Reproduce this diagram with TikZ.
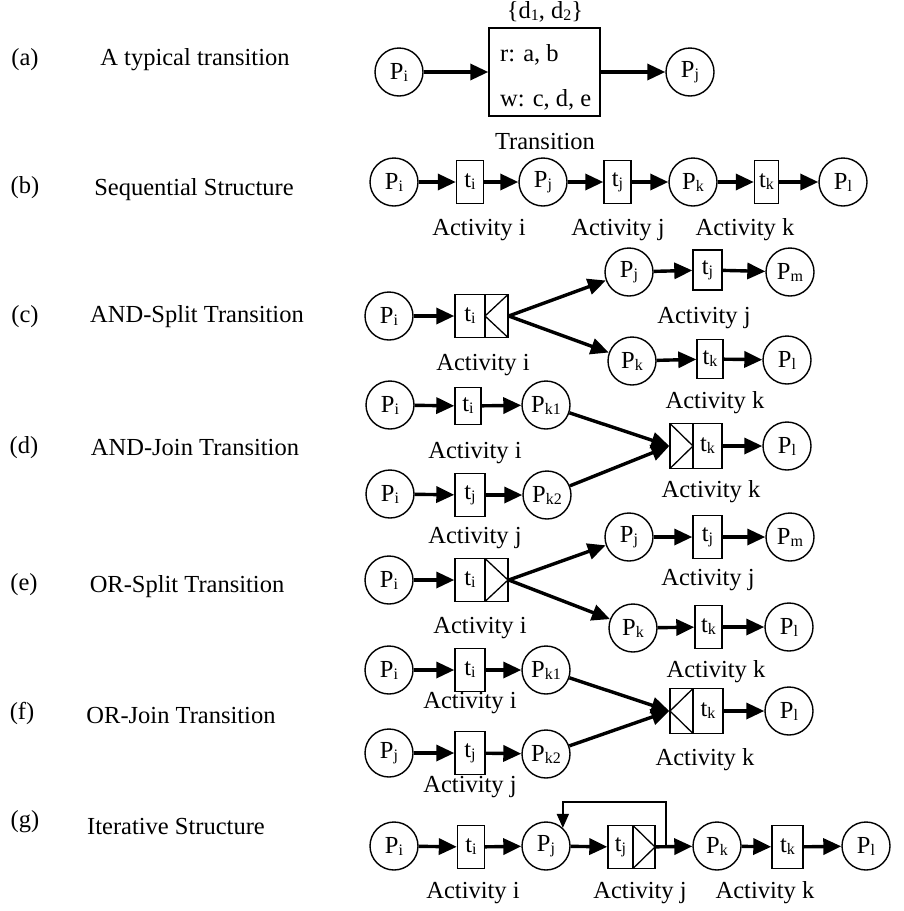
\documentclass[tikz,border=0pt]{standalone}
\usepackage{fontspec}
\setmainfont{Liberation Serif}
\usetikzlibrary{arrows.meta}
% small lowered index used in place and transition names
\newcommand\sbs[1]{\raisebox{-2pt}{\fontsize{16}{16}\selectfont #1}}

\begin{document}
\begin{tikzpicture}[x=1pt,y=-1pt,
  font=\fontsize{24.5}{28}\selectfont,
  place/.style={circle,draw,line width=1.4pt,minimum size=48pt,inner sep=0pt},
  trans/.style={rectangle,draw,line width=1.4pt,minimum width=27pt,minimum height=43pt,inner sep=0pt},
  gate/.style={rectangle,draw,line width=1.4pt,minimum width=23pt,minimum height=43pt,inner sep=0pt},
  gatein/.style={gate,path picture={\draw[line width=1.3pt]
      (path picture bounding box.north east) -- (path picture bounding box.west)
      -- (path picture bounding box.south east);}},
  gateout/.style={gate,path picture={\draw[line width=1.3pt]
      (path picture bounding box.north west) -- (path picture bounding box.east)
      -- (path picture bounding box.south west);}},
  arr/.style={-{Triangle[length=18pt,width=16pt]},line width=3.4pt},
  fbarr/.style={-{Triangle[length=14pt,width=12pt]},line width=1.6pt},
  lbl/.style={inner sep=0pt}
]
\useasboundingbox (0,0) rectangle (904,911);

% ---------- row labels ----------
\node[lbl] (la) at (25,60) {(a)};
\node[lbl] (ta) at (195,60) {A typical transition};
\node[lbl] (lb) at (25,188) {(b)};
\node[lbl] (tb) at (194,190) {Sequential Structure};
\node[lbl] (lc) at (25,317) {(c)};
\node[lbl] (tc) at (197,317) {AND-Split Transition};
\node[lbl] (ld) at (24,448) {(d)};
\node[lbl] (td) at (195,448) {AND-Join Transition};
\node[lbl] (le) at (24,585) {(e)};
\node[lbl] (te) at (187,587) {OR-Split Transition};
\node[lbl] (lf) at (22,713) {(f)};
\node[lbl] (tf) at (181,715) {OR-Join Transition};
\node[lbl] (lg) at (25,822) {(g)};
\node[lbl] (tg) at (176,826) {Iterative Structure};

% ---------- (a) a typical transition ----------
\node[place] (a-pi) at (399,72) {P\sbs{i}};
\node[rectangle,draw,line width=1.4pt,minimum width=111pt,minimum height=88pt] (a-t) at (544.5,72) {};
\node[place] (a-pj) at (690,72) {P\sbs{j}};
\node[lbl] (a-d) at (545,12) {\{d\sbs{1}, d\sbs{2}\}};
\node[lbl,anchor=west] (a-r) at (500,55) {r: a, b};
\node[lbl,anchor=west] (a-w) at (500,100) {w: c, d, e};
\node[lbl] (a-name) at (545,142) {Transition};
\draw[arr] (a-pi) -- (a-t);
\draw[arr] (a-t) -- (a-pj);

% ---------- (b) sequential structure ----------
\node[place] (b-pi) at (394,182) {P\sbs{i}};
\node[trans] (b-ti) at (470,182) {t\sbs{i}};
\node[place] (b-pj) at (543,182) {P\sbs{j}};
\node[trans] (b-tj) at (617.5,182) {t\sbs{j}};
\node[place] (b-pk) at (693,182) {P\sbs{k}};
\node[trans,minimum width=24pt] (b-tk) at (766.5,182) {t\sbs{k}};
\node[place] (b-pl) at (843,182) {P\sbs{l}};
\draw[arr] (b-pi) -- (b-ti);
\draw[arr] (b-ti) -- (b-pj);
\draw[arr] (b-pj) -- (b-tj);
\draw[arr] (b-tj) -- (b-pk);
\draw[arr] (b-pk) -- (b-tk);
\draw[arr] (b-tk) -- (b-pl);
\node[lbl] (b-ai) at (479,230) {Activity i};
\node[lbl] (b-aj) at (618,230) {Activity j};
\node[lbl] (b-ak) at (745,230) {Activity k};

% ---------- (c) AND-split ----------
\node[place] (c-pi) at (389,316) {P\sbs{i}};
\node[trans,minimum width=30pt] (c-ti) at (470,316) {t\sbs{i}};
\node[gatein] (c-s) at (496.5,316) {};
\node[place] (c-pj) at (629,272) {P\sbs{j}};
\node[trans,minimum width=29pt,minimum height=40pt] (c-tj) at (707.5,270) {t\sbs{j}};
\node[place] (c-pm) at (790,272) {P\sbs{m}};
\node[place] (c-pk) at (632,361) {P\sbs{k}};
\node[trans,minimum width=26pt,minimum height=39pt] (c-tk) at (710,359) {t\sbs{k}};
\node[place] (c-pl) at (787,360) {P\sbs{l}};
\draw[arr] (c-pi) -- (c-ti);
\draw[arr] (c-s.east) -- (c-pj);
\draw[arr] (c-s.east) -- (c-pk);
\draw[arr] (c-pj) -- (c-tj);
\draw[arr] (c-tj) -- (c-pm);
\draw[arr] (c-pk) -- (c-tk);
\draw[arr] (c-tk) -- (c-pl);
\node[lbl] (c-ai) at (483,365) {Activity i};
\node[lbl] (c-aj) at (704,318) {Activity j};
\node[lbl] (c-ak) at (715,403) {Activity k};

% ---------- (d) AND-join ----------
\node[place] (d-pi) at (390,405) {P\sbs{i}};
\node[trans,minimum width=26pt,minimum height=37pt] (d-ti) at (468,406) {t\sbs{i}};
\node[place] (d-pk1) at (546,405) {P\sbs{k1}};
\node[place] (d-pi2) at (390,494) {P\sbs{i}};
\node[trans,minimum width=30pt] (d-tj) at (470,495) {t\sbs{j}};
\node[place] (d-pk2) at (547,495) {P\sbs{k2}};
\node[gateout,minimum height=45pt] (d-j) at (681.5,446) {};
\node[trans,minimum width=29pt,minimum height=45pt] (d-tk) at (707.5,446) {t\sbs{k}};
\node[place] (d-pl) at (787,446) {P\sbs{l}};
\draw[arr] (d-pi) -- (d-ti);
\draw[arr] (d-ti) -- (d-pk1);
\draw[arr] (d-pi2) -- (d-tj);
\draw[arr] (d-tj) -- (d-pk2);
\draw[arr] (d-pk1) -- (d-j.west);
\draw[arr] (d-pk2) -- (d-j.west);
\draw[arr] (d-tk) -- (d-pl);
\node[lbl] (d-ai) at (475,453) {Activity i};
\node[lbl] (d-aj) at (475,538) {Activity j};
\node[lbl] (d-ak) at (711,492) {Activity k};

% ---------- (e) OR-split ----------
\node[place] (e-pi) at (389,580) {P\sbs{i}};
\node[trans,minimum width=30pt] (e-ti) at (470,580) {t\sbs{i}};
\node[gateout] (e-s) at (496.5,580) {};
\node[place] (e-pj) at (629,537) {P\sbs{j}};
\node[trans,minimum width=29pt] (e-tj) at (707.5,537) {t\sbs{j}};
\node[place] (e-pm) at (790,537) {P\sbs{m}};
\node[place] (e-pk) at (633,628) {P\sbs{k}};
\node[trans,minimum width=27pt] (e-tk) at (708.5,627) {t\sbs{k}};
\node[place] (e-pl) at (789,627) {P\sbs{l}};
\draw[arr] (e-pi) -- (e-ti);
\draw[arr] (e-s.east) -- (e-pj);
\draw[arr] (e-s.east) -- (e-pk);
\draw[arr] (e-pj) -- (e-tj);
\draw[arr] (e-tj) -- (e-pm);
\draw[arr] (e-pk) -- (e-tk);
\draw[arr] (e-tk) -- (e-pl);
\node[lbl] (e-ai) at (480,628) {Activity i};
\node[lbl] (e-aj) at (708,580) {Activity j};
\node[lbl] (e-ak) at (716,672) {Activity k};

% ---------- (f) OR-join ----------
\node[place] (f-pi) at (389,670) {P\sbs{i}};
\node[trans,minimum width=30pt] (f-ti) at (470,670) {t\sbs{i}};
\node[place] (f-pk1) at (546,670) {P\sbs{k1}};
\node[place] (f-pj) at (389,753) {P\sbs{j}};
\node[trans,minimum width=30pt] (f-tj) at (470,753) {t\sbs{j}};
\node[place] (f-pk2) at (546,754) {P\sbs{k2}};
\node[gatein,minimum height=45pt] (f-j) at (681.5,711) {};
\node[trans,minimum width=30pt,minimum height=45pt] (f-tk) at (708,711) {t\sbs{k}};
\node[place] (f-pl) at (789,711) {P\sbs{l}};
\draw[arr] (f-pi) -- (f-ti);
\draw[arr] (f-ti) -- (f-pk1);
\draw[arr] (f-pj) -- (f-tj);
\draw[arr] (f-tj) -- (f-pk2);
\draw[arr] (f-pk1) -- (f-j.west);
\draw[arr] (f-pk2) -- (f-j.west);
\draw[arr] (f-tk) -- (f-pl);
\node[lbl] (f-ai) at (470,703) {Activity i};
\node[lbl] (f-aj) at (470,787) {Activity j};
\node[lbl] (f-ak) at (705,760) {Activity k};

% ---------- (g) iterative structure ----------
\node[place] (g-pi) at (394,846) {P\sbs{i}};
\node[trans] (g-ti) at (471,847) {t\sbs{i}};
\node[place] (g-pj) at (546,846) {P\sbs{j}};
\node[trans,minimum width=25pt] (g-tj) at (620.5,847) {t\sbs{j}};
\node[gateout,minimum width=22pt] (g-s) at (644,847) {};
\node[place] (g-pk) at (717,846) {P\sbs{k}};
\node[trans,minimum width=31pt] (g-tk) at (787.5,847) {t\sbs{k}};
\node[place] (g-pl) at (866,846) {P\sbs{l}};
\draw[arr] (g-pi) -- (g-ti);
\draw[arr] (g-ti) -- (g-pj);
\draw[arr] (g-pj) -- (g-tj);
\draw[arr] (g-s) -- (g-pk);
\draw[arr] (g-pk) -- (g-tk);
\draw[arr] (g-tk) -- (g-pl);
\coordinate (g-fb) at (666,846);
\draw[fbarr] (g-fb) -- (g-fb |- 0,802) -| (g-pj.47);
\node[lbl] (g-ai) at (473,893) {Activity i};
\node[lbl] (g-aj) at (640,893) {Activity j};
\node[lbl] (g-ak) at (765,893) {Activity k};
\end{tikzpicture}
\end{document}
